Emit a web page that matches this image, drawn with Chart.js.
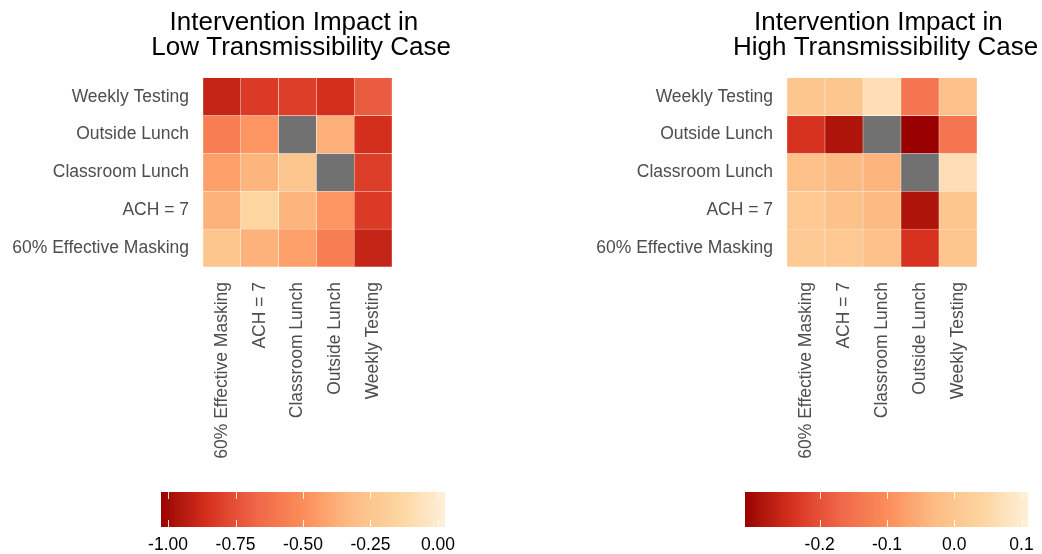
<!DOCTYPE html>
<html>
<head>
<meta charset="utf-8">
<script src="https://cdn.jsdelivr.net/npm/chart.js@4.4.1/dist/chart.umd.min.js"></script>
<style>
  body { margin: 0; background: #ffffff; overflow: hidden; }
  #wrap { position: relative; width: 1042px; height: 554px; overflow: hidden; }
  canvas { position: absolute; }
</style>
</head>
<body>
<div id="wrap">
<canvas id="lowChart" width="595" height="470" style="left:0;top:0"></canvas>
<canvas id="highChart" width="722" height="470" style="left:521px;top:0"></canvas>
<canvas id="lowScale" width="521" height="84" style="left:0;top:470px"></canvas>
<canvas id="highScale" width="521" height="84" style="left:521px;top:470px"></canvas>
</div>
<script>
// rows bottom -> top, columns left -> right (same order)
var interventions = ['60% Effective Masking', 'ACH = 7', 'Classroom Lunch', 'Outside Lunch', 'Weekly Testing'];

// low transmissibility case, one array per row
var lowMasking   = [-0.25, -0.36, -0.43, -0.57, -0.90];
var lowAch       = [-0.36, -0.14, -0.35, -0.47, -0.82];
var lowClassroom = [-0.43, -0.35, -0.25, null, -0.81];
var lowOutside   = [-0.57, -0.47, null, -0.37, -0.86];
var lowWeekly    = [-0.90, -0.82, -0.81, -0.86, -0.71];

// high transmissibility case
var highMasking   = [0.012, 0.007, -0.017, -0.24, 0.0];
var highAch       = [0.007, -0.013, -0.03, -0.287, 0.0];
var highClassroom = [-0.017, -0.03, -0.042, null, 0.067];
var highOutside   = [-0.24, -0.287, null, -0.311, -0.143];
var highWeekly    = [0.0, 0.0, 0.067, -0.143, -0.016];

// colour scale limits and breaks
var lowRange = [-1.026, 0.026];
var lowBreaks = [-1, -0.75, -0.5, -0.25, 0];
var highRange = [-0.311, 0.11];
var highBreaks = [-0.2, -0.1, 0, 0.1];

var FONT = 'Liberation Sans, Arial, sans-serif';
var palette = ['#990000', '#D7301F', '#EF6548', '#FC8D59', '#FDBB84', '#FDD49E', '#FEF0D9'];
var naColor = '#717171';

function hexToRgb(h) {
    return [parseInt(h.slice(1, 3), 16), parseInt(h.slice(3, 5), 16), parseInt(h.slice(5, 7), 16)];
}
function toLab(rgb) {
    var c = rgb.map(function (v) { v /= 255; return v <= 0.04045 ? v / 12.92 : Math.pow((v + 0.055) / 1.055, 2.4); });
    var x = (0.4124 * c[0] + 0.3576 * c[1] + 0.1805 * c[2]) / 0.95047;
    var y = 0.2126 * c[0] + 0.7152 * c[1] + 0.0722 * c[2];
    var z = (0.0193 * c[0] + 0.1192 * c[1] + 0.9505 * c[2]) / 1.08883;
    var f = function (t) { return t > 0.008856 ? Math.cbrt(t) : 7.787 * t + 16 / 116; };
    return [116 * f(y) - 16, 500 * (f(x) - f(y)), 200 * (f(y) - f(z))];
}
function fromLab(lab) {
    var fy = (lab[0] + 16) / 116, fx = fy + lab[1] / 500, fz = fy - lab[2] / 200;
    var g = function (t) { return t * t * t > 0.008856 ? t * t * t : (t - 16 / 116) / 7.787; };
    var x = g(fx) * 0.95047, y = g(fy), z = g(fz) * 1.08883;
    var rgb = [3.2406 * x - 1.5372 * y - 0.4986 * z, -0.9689 * x + 1.8758 * y + 0.0415 * z, 0.0557 * x - 0.2040 * y + 1.0570 * z];
    return rgb.map(function (v) {
        v = v <= 0.0031308 ? 12.92 * v : 1.055 * Math.pow(v, 1 / 2.4) - 0.055;
        return Math.round(Math.min(1, Math.max(0, v)) * 255);
    });
}
var paletteLab = palette.map(function (h) { return toLab(hexToRgb(h)); });

function colorAt(t) {
    t = Math.min(1, Math.max(0, t));
    var s = t * (palette.length - 1);
    var i = Math.min(Math.floor(s), palette.length - 2);
    var f = s - i;
    var a = paletteLab[i], b = paletteLab[i + 1];
    var c = fromLab([a[0] + (b[0] - a[0]) * f, a[1] + (b[1] - a[1]) * f, a[2] + (b[2] - a[2]) * f]);
    return 'rgb(' + c[0] + ',' + c[1] + ',' + c[2] + ')';
}
function fillFor(v, range) {
    if (v === null) return naColor;
    return colorAt((v - range[0]) / (range[1] - range[0]));
}

// axisWidth is used on both sides so the title stays centred over the panel
function makeHeatmap(id, title, rows, range, axisWidth) {
    new Chart(document.getElementById(id), {
        type: 'bar',
        data: {
            labels: interventions,
            datasets: rows.map(function (row) {
                return {
                    data: row.map(function () { return 1; }),
                    backgroundColor: row.map(function (v) { return fillFor(v, range); }),
                    borderColor: 'rgba(255,255,255,0.55)',
                    borderWidth: 0.5,
                    borderSkipped: false,
                    barPercentage: 1,
                    categoryPercentage: 1
                };
            })
        },
        options: {
            responsive: false,
            animation: false,
            devicePixelRatio: 1,
            layout: { padding: 0 },
            plugins: {
                legend: { display: false },
                tooltip: { enabled: false },
                title: {
                    display: true,
                    text: title,
                    color: '#000000',
                    font: { family: FONT, size: 26, weight: 'normal', lineHeight: 0.96 },
                    padding: { top: 10.5, bottom: 17.5 }
                }
            },
            scales: {
                x: {
                    stacked: true,
                    grid: { display: false, drawTicks: false },
                    border: { display: false },
                    ticks: {
                        color: '#4D4D4D',
                        font: { family: FONT, size: 17.5 },
                        minRotation: 90, maxRotation: 90,
                        autoSkip: false,
                        padding: 15
                    },
                    afterFit: function (s) { s.height = 203; }
                },
                y: {
                    stacked: true,
                    min: 0, max: 5,
                    grid: { display: false, drawTicks: false },
                    border: { display: false },
                    afterBuildTicks: function (s) {
                        s.ticks = interventions.map(function (n, i) { return { value: i + 0.5 }; });
                    },
                    ticks: {
                        color: '#4D4D4D',
                        font: { family: FONT, size: 17.5 },
                        padding: 14,
                        callback: function (v, i) { return interventions[i]; }
                    },
                    afterFit: function (s) { s.width = axisWidth; }
                },
                spacer: {
                    position: 'right',
                    grid: { display: false, drawTicks: false },
                    border: { display: false },
                    ticks: { display: false },
                    afterFit: function (s) { s.width = axisWidth; }
                }
            }
        }
    });
}

var colorbarPlugin = {
    id: 'colorbar',
    beforeDatasetsDraw: function (chart) {
        var a = chart.chartArea, ctx = chart.ctx;
        var grad = ctx.createLinearGradient(a.left, 0, a.right, 0);
        for (var k = 0; k <= 64; k++) grad.addColorStop(k / 64, colorAt(k / 64));
        ctx.save();
        ctx.fillStyle = grad;
        ctx.fillRect(a.left, a.top, a.right - a.left, a.bottom - a.top);
        var h = (a.bottom - a.top) / 5;
        ctx.strokeStyle = 'rgba(255,255,255,0.85)';
        ctx.lineWidth = 1;
        chart.scales.x.ticks.forEach(function (t) {
            var x = Math.round(chart.scales.x.getPixelForValue(t.value)) + 0.5;
            ctx.beginPath();
            ctx.moveTo(x, a.top); ctx.lineTo(x, a.top + h);
            ctx.moveTo(x, a.bottom - h); ctx.lineTo(x, a.bottom);
            ctx.stroke();
        });
        ctx.restore();
    }
};

function makeScale(id, range, breaks, decimals, padLeft, padRight) {
    new Chart(document.getElementById(id), {
        type: 'scatter',
        data: { datasets: [] },
        options: {
            responsive: false,
            animation: false,
            devicePixelRatio: 1,
            layout: { padding: { left: padLeft, right: padRight, top: 22, bottom: 0 } },
            plugins: { legend: { display: false }, tooltip: { enabled: false } },
            scales: {
                x: {
                    type: 'linear',
                    min: range[0], max: range[1],
                    grid: { display: false, drawTicks: false },
                    border: { display: false },
                    afterBuildTicks: function (s) {
                        s.ticks = breaks.map(function (v) { return { value: v }; });
                    },
                    ticks: {
                        color: '#000000',
                        font: { family: FONT, size: 17.5 },
                        padding: 8,
                        maxRotation: 0,
                        callback: function (v) { return v.toFixed(decimals); }
                    },
                    afterFit: function (s) { s.height = 27; }
                },
                y: { display: false, min: 0, max: 1 }
            }
        },
        plugins: [colorbarPlugin]
    });
}

makeHeatmap('lowChart', ['Intervention Impact in ', ' Low Transmissibility Case'],
    [lowMasking, lowAch, lowClassroom, lowOutside, lowWeekly], lowRange, 203);
makeHeatmap('highChart', ['Intervention Impact in ', ' High Transmissibility Case'],
    [highMasking, highAch, highClassroom, highOutside, highWeekly], highRange, 266);
makeScale('lowScale', lowRange, lowBreaks, 2, 161, 76);
makeScale('highScale', highRange, highBreaks, 1, 224, 13);
</script>
</body>
</html>
